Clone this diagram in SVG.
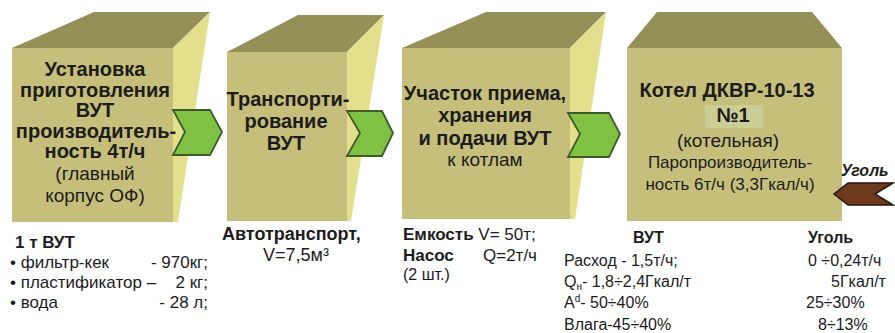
<svg xmlns="http://www.w3.org/2000/svg" width="895" height="333" viewBox="0 0 895 333">
<style>
.front{fill:#c6bf7b}
.top{fill:#958f58}
.side{fill:#e3df8d}
.garrow{fill:#7fc243;stroke:#3f5a2a;stroke-width:1.8;stroke-linejoin:miter}
.barrow{fill:#6e3a1e;stroke:#2a170c;stroke-width:1.5}
text{font-family:"Liberation Sans",Arial,sans-serif;fill:#1c1c1c}
.b{font-weight:bold}
.t20{font-size:20px}
.t19{font-size:19px}
.t18{font-size:18px}
.t17{font-size:17px}
.t16{font-size:16px}
.mid{text-anchor:middle}
.end{text-anchor:end}
</style>
<rect width="895" height="333" fill="#ffffff"/>

<g id="node-ustanovka">
<polygon class="top" points="12,48 94,12 210,12 173,48"/>
<polygon class="side" points="173,48 210,12 178,222 173,222"/>
<rect class="front" x="12" y="48" width="161" height="174"/>
<text class="b t20 mid" x="95" y="76">Установка</text>
<text class="b t20 mid" x="95" y="97">приготовления</text>
<text class="b t20 mid" x="95" y="117">ВУТ</text>
<text class="b t20 mid" x="96" y="138">производитель-</text>
<text class="b t20 mid" x="95" y="158">ность 4т/ч</text>
<text class="t19 mid" x="95" y="180">(главный</text>
<text class="t19 mid" x="95" y="202">корпус ОФ)</text>
</g>

<g id="node-transport">
<polygon class="top" points="227,52 298,15 384,15 347,52"/>
<polygon class="side" points="347,52 384,15 351,221 347,221"/>
<rect class="front" x="227" y="52" width="120" height="169"/>
<text class="b t20 mid" x="288" y="106">Транспорти-</text>
<text class="b t20 mid" x="286" y="128">рование</text>
<text class="b t20 mid" x="286" y="150">ВУТ</text>
</g>

<g id="node-uchastok">
<polygon class="top" points="402,48 486,12 606,12 570,48"/>
<polygon class="side" points="570,48 606,12 575,219 570,219"/>
<rect class="front" x="402" y="48" width="168" height="171"/>
<text class="b t20 mid" x="485" y="100">Участок приема,</text>
<text class="b t20 mid" x="485" y="122">хранения</text>
<text class="b t20 mid" x="485" y="145">и подачи ВУТ</text>
<text class="t19 mid" x="485" y="166">к котлам</text>
</g>

<g id="node-kotel">
<polygon class="top" points="627,48 657,12 812,12 842,48"/>
<rect class="front" x="627" y="48" width="215" height="173"/>
<rect x="705" y="105" width="58" height="23" fill="#cacd94"/>
<text class="b t20 mid" x="727" y="97">Котел ДКВР-10-13</text>
<text class="b t20 mid" x="733" y="122">№1</text>
<text class="t19 mid" x="728" y="147">(котельная)</text>
<text class="t17 mid" x="730" y="168">Паропроизводитель-</text>
<text class="t17 mid" x="730" y="190">ность 6т/ч (3,3Гкал/ч)</text>
</g>

<g id="connectors">
<polygon class="garrow" points="173,110 210,110 222,132 210,155 173,155 185,132"/>
<polygon class="garrow" points="347,111 382,111 393,133 382,156 347,156 360,133"/>
<polygon class="garrow" points="568,113 609,113 620,134 609,157 568,157 580,134"/>
<polygon class="barrow" points="848,183 893,183 875,194 893,205 848,205 834,194"/>
<text class="b t16" x="841" y="176" font-style="italic">Уголь</text>
</g>

<g id="info-ustanovka">
<text class="b t17" x="15" y="248">1 т ВУТ</text>
<text class="t17" x="10" y="268">• фильтр-кек</text>
<text class="t17 end" x="208" y="268">- 970кг;</text>
<text class="t17" x="10" y="288">• пластификатор –</text>
<text class="t17 end" x="208" y="288">2 кг;</text>
<text class="t17" x="10" y="308">• вода</text>
<text class="t17 end" x="208" y="308">- 28 л;</text>
</g>

<g id="info-transport">
<text class="b t18" x="222" y="240">Автотранспорт,</text>
<text class="t18 mid" x="296" y="261">V=7,5м³</text>
</g>

<g id="info-uchastok">
<text class="t17" x="403" y="240"><tspan class="b">Емкость</tspan> V= 50т;</text>
<text class="b t17" x="403" y="261">Насос</text>
<text class="t17" x="483" y="261">Q=2т/ч</text>
<text class="t16" x="403" y="280">(2 шт.)</text>
</g>

<g id="info-kotel">
<text class="b t16" x="633" y="243">ВУТ</text>
<text class="b t16" x="808" y="243">Уголь</text>
<text class="t16" x="564" y="266">Расход - 1,5т/ч;</text>
<text class="t16" x="564" y="287">Q<tspan font-size="10" dy="3">н</tspan><tspan dy="-3">- 1,8÷2,4Гкал/т</tspan></text>
<text class="t16" x="564" y="308">A<tspan font-size="10" dy="-6">d</tspan><tspan dy="6">- 50÷40%</tspan></text>
<text class="t16" x="564" y="330">Влага-45÷40%</text>
<text class="t16" x="808" y="266">0 ÷0,24т/ч</text>
<text class="t16" x="831" y="287">5Гкал/т</text>
<text class="t16" x="806" y="308">25÷30%</text>
<text class="t16" x="818" y="330">8÷13%</text>
</g>
</svg>
